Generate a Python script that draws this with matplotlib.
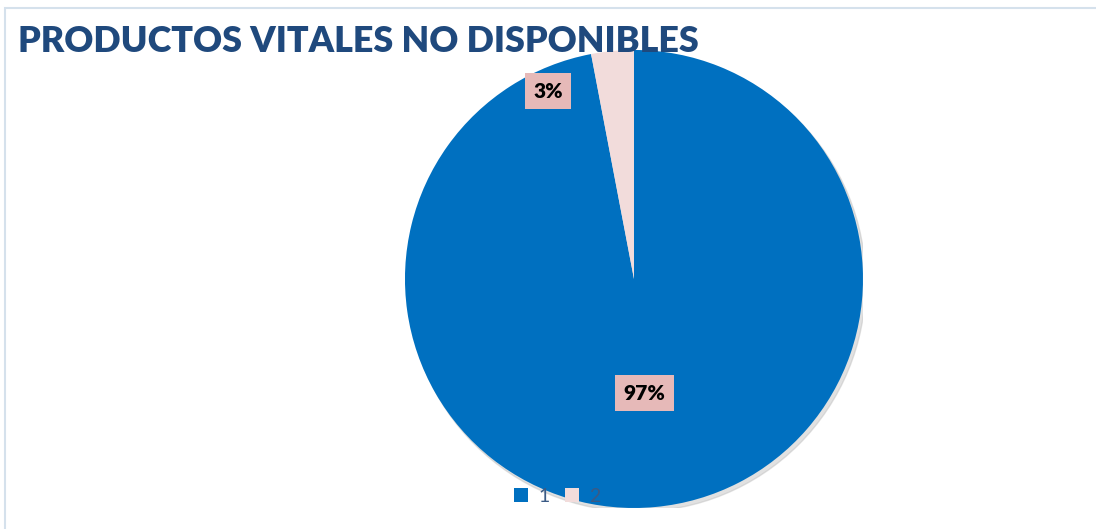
import matplotlib.pyplot as plt
from matplotlib.patches import Rectangle, Patch, Circle

# Data
categories = ["1", "2"]
values = [97, 3]
labels = ["97%", "3%"]
colors = ["#0070C0", "#F2DCDB"]

title = "PRODUCTOS VITALES NO DISPONIBLES"

plt.rcParams["font.family"] = ["Lato", "DejaVu Sans"]

fig = plt.figure(figsize=(10.96, 5.29), dpi=100)
fig.patch.set_facecolor("white")

# Chart border
fig.patches.append(Rectangle((5 / 1096, -0.01), 1.02, 1 - 8 / 529 + 0.01,
                             transform=fig.transFigure, fill=False,
                             edgecolor="#D5E1EC", linewidth=1.5))

ax = fig.add_axes([0.3695, 0.0397, 0.4179, 0.8658])

# Soft shadow under the pie
ax.add_patch(Circle((0.012, -0.016), 1.0, color="#BDBDBD", alpha=0.45, zorder=0))

wedges, _ = ax.pie(values, colors=colors, startangle=90, counterclock=False,
                   wedgeprops=dict(linewidth=0))
for w in wedges:
    w.set_zorder(1)

# Data labels
label_pos = [(0.047, -0.498), (-0.376, 0.82)]
for lab, (x, y) in zip(labels, label_pos):
    ax.text(x, y, lab, ha="center", va="center", fontsize=15, fontweight="heavy",
            color="black", zorder=3,
            bbox=dict(boxstyle="square,pad=0.4", facecolor="#E6B9B8", edgecolor="none"))

ax.set_xlim(-1, 1)
ax.set_ylim(-1, 1)
ax.set_aspect("equal")

# Title
fig.text(18 / 1096, 1 - 42 / 529, title, ha="left", va="center", fontsize=25.8,
         fontweight="heavy", color="#1F497D", zorder=10)

# Legend
handles = [Patch(facecolor=c, edgecolor="none") for c in colors]
leg = fig.legend(handles, categories, loc="center", bbox_to_anchor=(557 / 1096, 1 - 496 / 529),
                 ncol=2, frameon=False, fontsize=14, handlelength=0.75, handleheight=0.75,
                 handletextpad=0.5, columnspacing=0.8, labelcolor="#3A5A85")

fig.savefig("out.png", dpi=100)
